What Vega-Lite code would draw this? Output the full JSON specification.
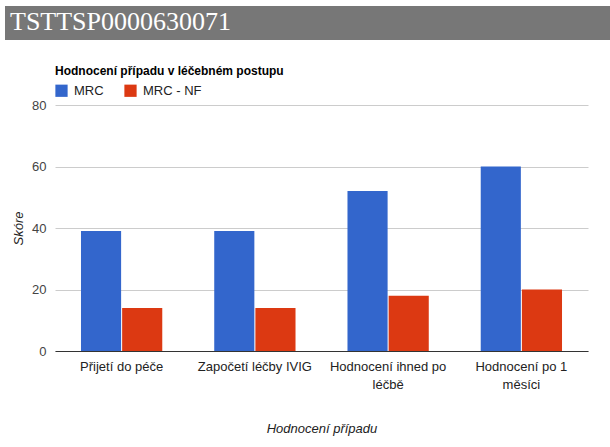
{
  "$schema": "https://vega.github.io/schema/vega-lite/v6.json",
  "background": "white",
  "padding": {"left": 5, "top": 6, "right": 0, "bottom": 5},
  "config": {"view": {"stroke": null}, "font": "Liberation Sans"},
  "spacing": 25,
  "resolve": {"legend": {"color": "independent"}, "scale": {"color": "independent"}},
  "vconcat": [
    {
      "width": 605,
      "height": 34,
      "view": {"fill": "#777777", "stroke": null},
      "data": {"values": [{"nazev": "TSTTSP0000630071"}]},
      "mark": {"type": "text", "align": "left", "baseline": "alphabetic", "font": "Liberation Serif", "fontSize": 26, "color": "#ffffff"},
      "encoding": {
        "text": {"field": "nazev"},
        "x": {"value": 5},
        "y": {"value": 24}
      }
    },
    {
      "spacing": 0,
      "resolve": {"legend": {"color": "independent"}, "scale": {"color": "independent"}},
      "hconcat": [
        {
          "width": 7,
          "height": 1,
          "data": {"values": []},
          "mark": {"type": "point"},
          "encoding": {}
        },
        {
          "width": 533,
          "height": 246,
          "title": {"text": "Hodnocení případu v léčebném postupu", "anchor": "start", "frame": "group", "fontSize": 12, "fontWeight": "bold", "color": "#000000", "offset": 6},
          "data": {"values": [
            {"kategorie": "Přijetí do péče", "serie": "MRC", "skore": 39},
            {"kategorie": "Přijetí do péče", "serie": "MRC - NF", "skore": 14},
            {"kategorie": "Započetí léčby IVIG", "serie": "MRC", "skore": 39},
            {"kategorie": "Započetí léčby IVIG", "serie": "MRC - NF", "skore": 14},
            {"kategorie": "Hodnocení ihned po léčbě", "serie": "MRC", "skore": 52},
            {"kategorie": "Hodnocení ihned po léčbě", "serie": "MRC - NF", "skore": 18},
            {"kategorie": "Hodnocení po 1 měsíci", "serie": "MRC", "skore": 60},
            {"kategorie": "Hodnocení po 1 měsíci", "serie": "MRC - NF", "skore": 20}
          ]},
          "mark": {"type": "bar"},
          "encoding": {
            "x": {
              "field": "kategorie", "type": "nominal", "sort": null,
              "scale": {"paddingInner": 0.39, "paddingOuter": 0.195},
              "axis": {
                "title": "Hodnocení případu", "titleFontStyle": "italic", "titleFontWeight": "normal", "titleFontSize": 13, "titleColor": "#222222", "titlePadding": 31,
                "labelAngle": 0, "labelFontSize": 13, "labelColor": "#222222", "labelPadding": 9, "labelLineHeight": 18,
                "labelExpr": "datum.value == 'Hodnocení ihned po léčbě' ? ['Hodnocení ihned po', 'léčbě'] : datum.value == 'Hodnocení po 1 měsíci' ? ['Hodnocení po 1', 'měsíci'] : datum.value",
                "ticks": false, "domain": true, "domainColor": "#333333", "grid": false
              }
            },
            "xOffset": {"field": "serie", "type": "nominal", "scale": {"paddingInner": 0.025}},
            "y": {
              "field": "skore", "type": "quantitative",
              "scale": {"domain": [0, 80], "nice": false},
              "axis": {
                "title": "Skóre", "titleFontStyle": "italic", "titleFontWeight": "normal", "titleFontSize": 13, "titleColor": "#222222", "titlePadding": 6,
                "values": [0, 20, 40, 60, 80], "labelFontSize": 13, "labelColor": "#444444", "labelPadding": 9,
                "ticks": false, "domain": false, "grid": true, "gridColor": "#cccccc"
              }
            },
            "color": {
              "field": "serie", "type": "nominal",
              "scale": {"domain": ["MRC", "MRC - NF"], "range": ["#3366cc", "#dc3912"]},
              "legend": {"title": null, "orient": "top", "direction": "horizontal", "symbolType": "square", "symbolSize": 150, "symbolStrokeWidth": 0, "labelFontSize": 13, "labelColor": "#222222", "columnPadding": 20, "labelOffset": 6, "offset": 7}
            }
          }
        }
      ]
    }
  ]
}
